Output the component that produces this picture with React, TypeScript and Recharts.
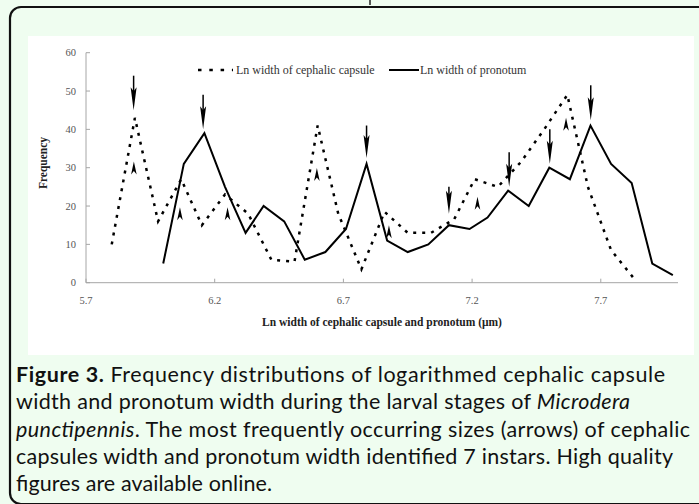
import React from 'react';
import { ComposedChart, Line, XAxis, YAxis, ReferenceLine, ReferenceDot } from 'recharts';

// Ln width of cephalic capsule (dotted series)
const cephalicX = [5.80, 5.89, 5.98, 6.07, 6.15, 6.24, 6.33, 6.42, 6.51, 6.60, 6.68, 6.77, 6.86, 6.95, 7.04, 7.13, 7.21, 7.30, 7.39, 7.48, 7.57, 7.65, 7.74, 7.83];
const cephalicFreq = [10, 43, 16, 27, 15, 23, 18, 6, 5.5, 41, 18, 3.5, 18.5, 13, 13, 16.5, 27, 25, 31.5, 40, 49, 25, 8.5, 1];

// Ln width of pronotum (solid series)
const pronotumX = [6.00, 6.08, 6.16, 6.24, 6.32, 6.39, 6.47, 6.55, 6.63, 6.71, 6.79, 6.87, 6.95, 7.03, 7.11, 7.19, 7.26, 7.34, 7.42, 7.50, 7.58, 7.66, 7.74, 7.82, 7.90, 7.98];
const pronotumFreq = [5, 31, 39, 25, 13, 20, 16, 6, 8, 14, 31, 11, 8, 10, 15, 14, 17, 24, 20, 30, 27, 41, 31, 26, 5, 2];

// Arrows marking instar modes
const downArrowX = [5.885, 6.155, 6.79, 7.11, 7.344, 7.502, 7.661];
const downArrowTip = [45, 40, 32.5, 18, 25, 31, 42.4];
const downArrowTop = [54, 49, 41, 25, 34, 40, 51.5];
const upArrowX = [5.886, 6.065, 6.25, 6.597, 6.877, 7.221, 7.565];
const upArrowTip = [31.6, 19.7, 19.7, 29.9, 15, 22.4, 43];

const xTicks = [5.7, 6.2, 6.7, 7.2, 7.7];
const yTicks = [0, 10, 20, 30, 40, 50, 60];

const cephalicData = cephalicX.map((x, i) => ({ x, f: cephalicFreq[i] }));
const pronotumData = pronotumX.map((x, i) => ({ x, f: pronotumFreq[i] }));

const serif = '"Liberation Serif", "Times New Roman", serif';
const sans = 'Lato, "Noto Sans", sans-serif';
const tickStyle = { fill: '#555', fontSize: 10.5, fontFamily: serif };

const DownHead = (p: any) => {
  const { cx, cy } = p;
  if (cx == null || cy == null) return <g />;
  return <path d={`M${cx},${cy} L${cx - 3},${cy - 23} L${cx},${cy - 19} L${cx + 3},${cy - 23} Z`} fill="#000" />;
};
const UpHead = (p: any) => {
  const { cx, cy } = p;
  if (cx == null || cy == null) return <g />;
  return <path d={`M${cx},${cy} L${cx + 2.8},${cy + 13} L${cx},${cy + 9.5} L${cx - 2.8},${cy + 13} Z`} fill="#000" />;
};

export default function App() {
  return (
    <div style={{ position: 'absolute', left: 0, top: 0, width: 699, height: 504, background: '#effdf0', overflow: 'hidden' }}>
      <svg width={699} height={504} style={{ position: 'absolute', left: 0, top: 0 }}>
        <rect x={10} y={7} width={760} height={497} rx={11} fill="none" stroke="#111" strokeWidth={2.2} />
        <line x1={370} y1={0} x2={370} y2={5} stroke="#222" strokeWidth={1.5} />
      </svg>
      <div style={{ position: 'absolute', left: 28, top: 36, width: 666, height: 319, background: '#fff' }}>
        <ComposedChart width={666} height={319} margin={{ top: 16.7, right: 16, bottom: 42.3, left: 0 }}>
          <XAxis type="number" dataKey="x" domain={[5.7, 8.0]} ticks={xTicks} interval={0}
            tickFormatter={(v: number) => v.toFixed(1)} height={30} stroke="#a6a6a6"
            tickSize={-4} tickMargin={18} tick={tickStyle} allowDataOverflow />
          <YAxis type="number" domain={[0, 60]} ticks={yTicks} interval={0} width={58} stroke="#a6a6a6"
            tickSize={-4} tickMargin={14} tick={tickStyle} />
          <Line data={cephalicData} dataKey="f" type="linear" stroke="#000" strokeWidth={2.5}
            strokeDasharray="3 6" dot={false} isAnimationActive={false} />
          <Line data={pronotumData} dataKey="f" type="linear" stroke="#000" strokeWidth={2}
            dot={false} isAnimationActive={false} />
          {downArrowX.map((x, i) => (
            <ReferenceLine key={'ds' + i} segment={[{ x, y: downArrowTop[i] }, { x, y: downArrowTip[i] + 3 }]}
              stroke="#000" strokeWidth={1.5} ifOverflow="visible" />
          ))}
          {downArrowX.map((x, i) => (
            <ReferenceDot key={'dh' + i} x={x} y={downArrowTip[i]} r={0} shape={DownHead} ifOverflow="visible" />
          ))}
          {upArrowX.map((x, i) => (
            <ReferenceDot key={'uh' + i} x={x} y={upArrowTip[i]} r={0} shape={UpHead} ifOverflow="visible" />
          ))}
        </ComposedChart>
        <svg width={666} height={319} style={{ position: 'absolute', left: 0, top: 0, pointerEvents: 'none' }}>
          <line x1={170} y1={34} x2={205} y2={34} stroke="#000" strokeWidth={2.5} strokeDasharray="3.5 7.8" />
          <text x={208} y={38} fontFamily={serif} fontSize={12} fill="#333">Ln width of cephalic capsule</text>
          <line x1={361} y1={34} x2={391} y2={34} stroke="#000" strokeWidth={2} />
          <text x={392} y={38} fontFamily={serif} fontSize={12} fill="#333">Ln width of pronotum</text>
          <text transform="translate(19,127) rotate(-90)" textAnchor="middle" fontFamily={serif}
            fontSize={11.5} fontWeight="bold" fill="#222">Frequency</text>
          <text x={354} y={290} textAnchor="middle" fontFamily={serif} fontSize={11.5} fontWeight="bold"
            fill="#222">Ln width of cephalic capsule and pronotum (μm)</text>
        </svg>
      </div>
      <svg width={699} height={504} style={{ position: 'absolute', left: 0, top: 0, pointerEvents: 'none' }}>
        <g fontFamily={sans} fontSize={21.5} fill="#111">
          <text x={16} y={382} textLength={649} lengthAdjust="spacing"><tspan fontWeight="bold">Figure 3.</tspan> Frequency distributions of logarithmed cephalic capsule</text>
          <text x={16} y={409.3} textLength={614} lengthAdjust="spacing">width and pronotum width during the larval stages of <tspan fontStyle="italic">Microdera</tspan></text>
          <text x={16} y={436.6} textLength={674} lengthAdjust="spacing"><tspan fontStyle="italic">punctipennis</tspan>. The most frequently occurring sizes (arrows) of cephalic</text>
          <text x={16} y={463.9} textLength={657} lengthAdjust="spacing">capsules width and pronotum width identified 7 instars. High quality</text>
          <text x={16} y={491.2} textLength={256} lengthAdjust="spacing">figures are available online.</text>
        </g>
      </svg>
    </div>
  );
}
